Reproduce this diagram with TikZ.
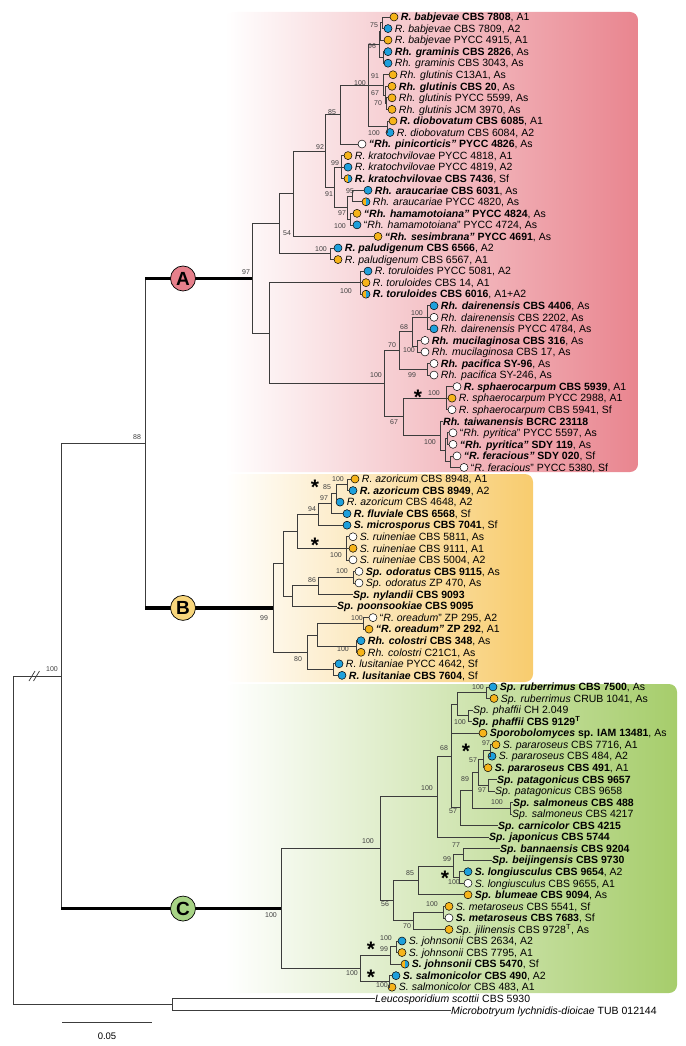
\documentclass[tikz,border=0pt]{standalone}
\usepackage{fontspec}
\setmainfont{Liberation Sans}
\usetikzlibrary{positioning}

\definecolor{dotorange}{HTML}{F6B41A}
\definecolor{dotblue}{HTML}{1EA0DC}
\definecolor{shadeA}{HTML}{E9858F}
\definecolor{shadeB}{HTML}{F8CC6E}
\definecolor{shadeC}{HTML}{A6CD6B}
\definecolor{circA}{HTML}{E6808B}
\definecolor{circB}{HTML}{F8D67C}
\definecolor{circC}{HTML}{A8D486}
\definecolor{treeline}{HTML}{3C3C3C}

\tikzset{
  branch/.style={draw=treeline, line width=0.7pt},
  stem/.style={draw=black, line width=3.2pt},
  dot/.style={circle, draw=black, line width=0.5pt, minimum size=8pt, inner sep=0pt},
  dotO/.style={dot, fill=dotorange},
  dotB/.style={dot, fill=dotblue},
  dotW/.style={dot, fill=white},
  dotH/.style={dot, fill=dotorange, path picture={\fill[dotblue] (path picture bounding box.south) rectangle (path picture bounding box.north east);}},
  taxon/.style={anchor=west, inner sep=0pt, text height=7.5pt, text depth=0pt, font=\fontsize{10.5}{12}\selectfont},
  boot/.style={inner sep=0pt, text=black!75, font=\fontsize{7}{8}\selectfont},
  clade/.style={circle, draw=black, line width=0.7pt, minimum size=25pt, inner sep=0pt, font=\fontsize{19}{19}\selectfont\bfseries},
  ast/.style={anchor=base, yshift=-12pt, inner sep=0pt, font=\fontsize{21}{21}\selectfont\bfseries}
}

% leaf with a mating-type dot, and leaf with text only
\newcommand\leafdot[5]{%
  \node[#4] (l#1) at (#2,#3) {};
  \node[taxon] (t#1) at ([xshift=2.5pt]l#1.east) {#5};}
\newcommand\leaftxt[4]{%
  \node[taxon] (l#1) at (#2,#3) {#4};}

\begin{document}
\begin{tikzpicture}[x=1pt, y=-11.55pt]
% frame and clade backgrounds (pixel units)
\begin{scope}[y=-1pt, yshift=5.45pt]
  \useasboundingbox (0,0) rectangle (685,1046);
  \shade[left color=white, right color=shadeA, rounded corners=8pt] (225,12) rectangle (638,472);
  \shade[left color=white, right color=shadeB, rounded corners=8pt] (225,474) rectangle (533,682);
  \shade[left color=white, right color=shadeC, rounded corners=8pt] (225,684) rectangle (677,993);
\end{scope}

% clade A
\leafdot{1}{394}{1}{dotO}{\textbf{\textit{R. babjevae} CBS 7808}, A1}
\leafdot{2}{388}{2}{dotB}{\textit{R. babjevae} CBS 7809, A2}
\leafdot{3}{388}{3}{dotO}{\textit{R. babjevae} PYCC 4915, A1}
\leafdot{4}{388}{4}{dotB}{\textbf{\textit{Rh. graminis} CBS 2826}, As}
\leafdot{5}{388}{5}{dotB}{\textit{Rh. graminis} CBS 3043, As}
\leafdot{6}{393}{6}{dotO}{\textit{Rh. glutinis} C13A1, As}
\leafdot{7}{392}{7}{dotO}{\textbf{\textit{Rh. glutinis} CBS 20}, As}
\leafdot{8}{392}{8}{dotO}{\textit{Rh. glutinis} PYCC 5599, As}
\leafdot{9}{392}{9}{dotO}{\textit{Rh. glutinis} JCM 3970, As}
\leafdot{10}{393}{10}{dotO}{\textbf{\textit{R. diobovatum} CBS 6085}, A1}
\leafdot{11}{390}{11}{dotB}{\textit{R. diobovatum} CBS 6084, A2}
\leafdot{12}{362}{12}{dotW}{\textbf{\textit{“Rh. pinicorticis”} PYCC 4826}, As}
\leafdot{13}{348}{13}{dotO}{\textit{R. kratochvilovae} PYCC 4818, A1}
\leafdot{14}{348}{14}{dotB}{\textit{R. kratochvilovae} PYCC 4819, A2}
\leafdot{15}{348}{15}{dotH}{\textbf{\textit{R. kratochvilovae} CBS 7436}, Sf}
\leafdot{16}{368}{16}{dotB}{\textbf{\textit{Rh. araucariae} CBS 6031}, As}
\leafdot{17}{366}{17}{dotH}{\textit{Rh. araucariae} PYCC 4820, As}
\leafdot{18}{357}{18}{dotO}{\textbf{\textit{“Rh. hamamotoiana”} PYCC 4824}, As}
\leafdot{19}{357}{19}{dotB}{“\textit{Rh. hamamotoiana}” PYCC 4724, As}
\leafdot{20}{378}{20}{dotO}{\textbf{\textit{“Rh. sesimbrana”} PYCC 4691}, As}
\leafdot{21}{338}{21}{dotB}{\textbf{\textit{R. paludigenum} CBS 6566}, A2}
\leafdot{22}{338}{22}{dotO}{\textit{R. paludigenum} CBS 6567, A1}
\leafdot{23}{368}{23}{dotB}{\textit{R. toruloides} PYCC 5081, A2}
\leafdot{24}{366}{24}{dotO}{\textit{R. toruloides} CBS 14, A1}
\leafdot{25}{366}{25}{dotH}{\textbf{\textit{R. toruloides} CBS 6016}, A1+A2}
\leafdot{26}{434}{26}{dotB}{\textbf{\textit{Rh. dairenensis} CBS 4406}, As}
\leafdot{27}{434}{27}{dotW}{\textit{Rh. dairenensis} CBS 2202, As}
\leafdot{28}{434}{28}{dotB}{\textit{Rh. dairenensis} PYCC 4784, As}
\leafdot{29}{425}{29}{dotW}{\textbf{\textit{Rh. mucilaginosa} CBS 316}, As}
\leafdot{30}{425}{30}{dotW}{\textit{Rh. mucilaginosa} CBS 17, As}
\leafdot{31}{434}{31}{dotW}{\textbf{\textit{Rh. pacifica} SY-96}, As}
\leafdot{32}{434}{32}{dotW}{\textit{Rh. pacifica} SY-246, As}
\leafdot{33}{457}{33}{dotW}{\textbf{\textit{R. sphaerocarpum} CBS 5939}, A1}
\leafdot{34}{452}{34}{dotO}{\textit{R. sphaerocarpum} PYCC 2988, A1}
\leafdot{35}{452}{35}{dotW}{\textit{R. sphaerocarpum} CBS 5941, Sf}
\leaftxt{36}{443}{36}{\textbf{\textit{Rh. taiwanensis} BCRC 23118}}
\leafdot{37}{453}{37}{dotW}{“\textit{Rh. pyritica}” PYCC 5597, As}
\leafdot{38}{453}{38}{dotW}{\textbf{\textit{“Rh. pyritica”} SDY 119}, As}
\leafdot{39}{457}{39}{dotW}{\textbf{\textit{“R. feracious”} SDY 020}, Sf}
\leafdot{40}{464}{40}{dotW}{“\textit{R. feracious}” PYCC 5380, Sf}

% clade B
\leafdot{41}{355}{41}{dotO}{\textit{R. azoricum} CBS 8948, A1}
\leafdot{42}{353}{42}{dotB}{\textbf{\textit{R. azoricum} CBS 8949}, A2}
\leafdot{43}{340}{43}{dotB}{\textit{R. azoricum} CBS 4648, A2}
\leafdot{44}{347}{44}{dotB}{\textbf{\textit{R. fluviale} CBS 6568}, Sf}
\leafdot{45}{347}{45}{dotB}{\textbf{\textit{S. microsporus} CBS 7041}, Sf}
\leafdot{46}{353}{46}{dotW}{\textit{S. ruineniae} CBS 5811, As}
\leafdot{47}{353}{47}{dotO}{\textit{S. ruineniae} CBS 9111, A1}
\leafdot{48}{353}{48}{dotW}{\textit{S. ruineniae} CBS 5004, A2}
\leafdot{49}{359}{49}{dotW}{\textbf{\textit{Sp. odoratus} CBS 9115}, As}
\leafdot{50}{359}{50}{dotW}{\textit{Sp. odoratus} ZP 470, As}
\leaftxt{51}{353}{51}{\textbf{\textit{Sp. nylandii} CBS 9093}}
\leaftxt{52}{337}{52}{\textbf{\textit{Sp. poonsookiae} CBS 9095}}
\leafdot{53}{373}{53}{dotW}{“\textit{R. oreadum}” ZP 295, A2}
\leafdot{54}{369}{54}{dotO}{\textbf{\textit{“R. oreadum”} ZP 292}, A1}
\leafdot{55}{361}{55}{dotB}{\textbf{\textit{Rh. colostri} CBS 348}, As}
\leafdot{56}{361}{56}{dotO}{\textit{Rh. colostri} C21C1, As}
\leafdot{57}{339}{57}{dotB}{\textit{R. lusitaniae} PYCC 4642, Sf}
\leafdot{58}{342}{58}{dotB}{\textbf{\textit{R. lusitaniae} CBS 7604}, Sf}

% clade C
\leafdot{59}{493}{59}{dotB}{\textbf{\textit{Sp. ruberrimus} CBS 7500}, As}
\leafdot{60}{494}{60}{dotO}{\textit{Sp. ruberrimus} CRUB 1041, As}
\leaftxt{61}{473}{61}{\textit{Sp. phaffii} CH 2.049}
\leaftxt{62}{472}{62}{\textbf{\textit{Sp. phaffii} CBS 9129\textsuperscript{T}}}
\leafdot{63}{483}{63}{dotO}{\textbf{\textit{Sporobolomyces} sp. IAM 13481}, As}
\leafdot{64}{496}{64}{dotO}{\textit{S. pararoseus} CBS 7716, A1}
\leafdot{65}{492}{65}{dotB}{\textit{S. pararoseus} CBS 484, A2}
\leafdot{66}{488}{66}{dotO}{\textbf{\textit{S. pararoseus} CBS 491}, A1}
\leaftxt{67}{497}{67}{\textbf{\textit{Sp. patagonicus} CBS 9657}}
\leaftxt{68}{495}{68}{\textit{Sp. patagonicus} CBS 9658}
\leaftxt{69}{513}{69}{\textbf{\textit{Sp. salmoneus} CBS 488}}
\leaftxt{70}{512}{70}{\textit{Sp. salmoneus} CBS 4217}
\leaftxt{71}{498}{71}{\textbf{\textit{Sp. carnicolor} CBS 4215}}
\leaftxt{72}{489}{72}{\textbf{\textit{Sp. japonicus} CBS 5744}}
\leaftxt{73}{500}{73}{\textbf{\textit{Sp. bannaensis} CBS 9204}}
\leaftxt{74}{492}{74}{\textbf{\textit{Sp. beijingensis} CBS 9730}}
\leafdot{75}{468}{75}{dotB}{\textbf{\textit{S. longiusculus} CBS 9654}, A2}
\leafdot{76}{468}{76}{dotW}{\textit{S. longiusculus} CBS 9655, A1}
\leafdot{77}{468}{77}{dotO}{\textbf{\textit{Sp. blumeae} CBS 9094}, As}
\leafdot{78}{449}{78}{dotO}{\textit{S. metaroseus} CBS 5541, Sf}
\leafdot{79}{449}{79}{dotW}{\textbf{\textit{S. metaroseus} CBS 7683}, Sf}
\leafdot{80}{449}{80}{dotO}{\textit{Sp. jilinensis} CBS 9728\textsuperscript{T}, As}
\leafdot{81}{402}{81}{dotB}{\textit{S. johnsonii} CBS 2634, A2}
\leafdot{82}{402}{82}{dotO}{\textit{S. johnsonii} CBS 7795, A1}
\leafdot{83}{405}{83}{dotH}{\textbf{\textit{S. johnsonii} CBS 5470}, Sf}
\leafdot{84}{396}{84}{dotB}{\textbf{\textit{S. salmonicolor} CBS 490}, A2}
\leafdot{85}{392}{85}{dotO}{\textit{S. salmonicolor} CBS 483, A1}

% outgroup
\leaftxt{86}{375}{86}{\textit{Leucosporidium scottii} CBS 5930}
\leaftxt{87}{451}{87}{\textit{Microbotryum lychnidis-dioicae} TUB 012144}

% internal nodes (x in px, y in rows)
\coordinate (a75) at (382,1.5);
\coordinate (ababj) at (380.5,2.25);
\coordinate (agram) at (383,4.5);
\coordinate (a96) at (379,3.375);
\coordinate (a70g) at (386,8.5);
\coordinate (a67g) at (385,7.75);
\coordinate (a91) at (383,6.875);
\coordinate (adio) at (387,10.5);
\coordinate (a100) at (368,6.94);
\coordinate (a85) at (340,9.47);
\coordinate (akra) at (341,14);
\coordinate (aara) at (352,16.5);
\coordinate (aham) at (350,18.5);
\coordinate (a97) at (347,17.5);
\coordinate (a91k) at (334,15.75);
\coordinate (a92) at (325,12.61);
\coordinate (a54r) at (293,16.3);
\coordinate (apal) at (330,21.5);
\coordinate (a54) at (279,18.9);
\coordinate (ator) at (360,24);
\coordinate (adai) at (427,27);
\coordinate (amuc) at (417,29.5);
\coordinate (a68) at (412,28.25);
\coordinate (apac) at (427,31.5);
\coordinate (a70) at (399,29.875);
\coordinate (asph) at (446,34);
\coordinate (apyr) at (447,37.5);
\coordinate (afer) at (450,39.5);
\coordinate (apf) at (445,38.5);
\coordinate (atai) at (440,37.25);
\coordinate (a67) at (403,35.6);
\coordinate (aU) at (384,32.75);
\coordinate (aV) at (269,28.375);
\coordinate (aroot) at (252,23.64);

\coordinate (bazo) at (347,41.5);
\coordinate (b85) at (336,42.25);
\coordinate (b97) at (331,43.125);
\coordinate (b94) at (318,44.06);
\coordinate (brui) at (346,47);
\coordinate (b1) at (297,45.53);
\coordinate (bodo) at (353,49.5);
\coordinate (b86) at (318,50.25);
\coordinate (b4) at (292,51.125);
\coordinate (b3) at (283,48.33);
\coordinate (bore) at (363,53.5);
\coordinate (bcol) at (356,55.5);
\coordinate (bO) at (317,54.5);
\coordinate (blus) at (333,57.5);
\coordinate (b80) at (307,56);
\coordinate (broot) at (273,52.16);

\coordinate (crub) at (486,59.5);
\coordinate (cpha) at (468,61.5);
\coordinate (crp) at (457,60.5);
\coordinate (cpar1) at (490,64.5);
\coordinate (cpar2) at (483,65.25);
\coordinate (cpat) at (488,67.5);
\coordinate (cpp) at (478,66.375);
\coordinate (csal) at (510,69.5);
\coordinate (c89) at (472,67.94);
\coordinate (c57) at (460,69.47);
\coordinate (c68) at (451,64.98);
\coordinate (c100) at (437,68.49);
\coordinate (c77) at (463,73.5);
\coordinate (clon) at (459,75.5);
\coordinate (c99) at (453,74.5);
\coordinate (c85) at (418,75.75);
\coordinate (cmet) at (443,78.5);
\coordinate (c70) at (413,79.25);
\coordinate (c56) at (393,77.5);
\coordinate (cX) at (380,73);
\coordinate (cjA) at (396,81.5);
\coordinate (cjB) at (390,82.25);
\coordinate (csmc) at (389,84.5);
\coordinate (cJ) at (360,83.375);
\coordinate (croot) at (281,78.19);

\coordinate (nAB) at (145,37.9);
\coordinate (nIn) at (61,58.05);
\coordinate (nOut) at (172,86.5);
\coordinate (nRoot) at (13,72.3);

% branches
\foreach \p/\cs in {
  a75/{l1.west,l2.west}, ababj/{a75,l3.west}, agram/{l4.west,l5.west},
  a96/{ababj,agram}, a70g/{l8.west,l9.west}, a67g/{l7.west,a70g},
  a91/{l6.west,a67g}, adio/{l10.west,l11.west}, a100/{a96,a91,adio},
  a85/{a100,l12.west}, akra/{l13.west,l14.west,l15.west},
  aara/{l16.west,l17.west}, aham/{l18.west,l19.west}, a97/{aara,aham},
  a91k/{akra,a97}, a92/{a85,a91k}, a54r/{a92,l20.west},
  apal/{l21.west,l22.west}, a54/{a54r,apal},
  ator/{l23.west,l24.west,l25.west}, adai/{l26.west,l27.west,l28.west},
  amuc/{l29.west,l30.west}, a68/{adai,amuc}, apac/{l31.west,l32.west},
  a70/{a68,apac}, asph/{l33.west,l34.west,l35.west},
  apyr/{l37.west,l38.west}, afer/{l39.west,l40.west}, apf/{apyr,afer},
  atai/{l36.west,apf}, a67/{asph,atai}, aU/{a70,a67}, aV/{ator,aU},
  aroot/{a54,aV},
  bazo/{l41.west,l42.west}, b85/{bazo,l43.west}, b97/{b85,l44.west},
  b94/{b97,l45.west}, brui/{l46.west,l47.west,l48.west}, b1/{b94,brui},
  bodo/{l49.west,l50.west}, b86/{bodo,l51.west}, b4/{b86,l52.west},
  b3/{b1,b4}, bore/{l53.west,l54.west}, bcol/{l55.west,l56.west},
  bO/{bore,bcol}, blus/{l57.west,l58.west}, b80/{bO,blus}, broot/{b3,b80},
  crub/{l59.west,l60.west}, cpha/{l61.west,l62.west}, crp/{crub,cpha},
  cpar1/{l64.west,l65.west}, cpar2/{cpar1,l66.west}, cpat/{l67.west,l68.west},
  cpp/{cpar2,cpat}, csal/{l69.west,l70.west}, c89/{cpp,csal},
  c57/{c89,l71.west}, c68/{crp,l63.west,c57}, c100/{c68,l72.west},
  c77/{l73.west,l74.west}, clon/{l75.west,l76.west}, c99/{c77,clon},
  c85/{c99,l77.west}, cmet/{l78.west,l79.west}, c70/{cmet,l80.west},
  c56/{c85,c70}, cX/{c100,c56}, cjA/{l81.west,l82.west}, cjB/{cjA,l83.west},
  csmc/{l84.west,l85.west}, cJ/{cjB,csmc}, croot/{cX,cJ},
  nAB/{aroot,broot}, nIn/{nAB,croot}, nOut/{l86.west,l87.west},
  nRoot/{nIn,nOut}}
  \foreach \c in \cs {\draw[branch] (\p) |- (\c);}

% clade stems
\draw[stem] (nAB |- aroot) -- (aroot);
\draw[stem] (nAB |- broot) -- (broot);
\draw[stem] (nIn |- croot) -- (croot);
\node[clade, fill=circA] (kA) at (183,23.64) {A};
\node[clade, fill=circB] (kB) at (183,52.16) {B};
\node[clade, fill=circC] (kC) at (183,78.19) {C};

% support values, stars, scale (pixel units)
\begin{scope}[y=-1pt, yshift=5.45pt]
  \foreach \x/\y/\v [count=\i] in {
    374/25/75, 372/46/96, 360/83/100, 375/76/91, 375/93/67, 378/103/70,
    332/112/85, 374/133/100, 320/147/92, 335/163/99, 329/194/91, 350/191/95,
    342/213/97, 340/226/100, 287/233/54, 321/249/100, 246/272/97, 346/291/100,
    417/313/100, 404/327/68, 392/345/70, 409/350/100, 376/375/100, 412/375/99,
    434/393/100, 394/422/67, 430/442/100,
    338/479/100, 327/487/85, 324/498/97, 312/509/94, 336/555/100, 342/571/100,
    312/580/86, 264/618/99, 357/618/100, 343/649/100, 298/659/80,
    478/687/100, 460/722/100, 486/743/97, 473/760/57, 444/748/68, 465/779/89,
    482/790/97, 427/788/100, 497/802/100, 453/811/57, 456/845/77, 368/841/100,
    447/859/99, 410/873/85, 454/882/100, 385/904/56, 432/904/100, 407/926/70,
    271/915/100, 386/938/100, 384/949/99, 352/973/100, 382/985/100,
    52/669/100, 137/437/88}
    \node[boot] (bs\i) at (\x,\y) {\v};
  \foreach \x/\y [count=\i] in {418/392, 315/482, 315/540, 466/746, 445/873, 371/944, 371/972}
    \node[ast] (st\i) at (\x,\y) {*};
  \draw[branch] (29,681) -- (35,671) (33.5,681) -- (39.5,671);
  \coordinate (sbL) at (62,1022);
  \coordinate (sbR) at (152,1022);
  \draw[branch] (sbL) -- (sbR);
  \node[font=\fontsize{9.5}{10}\selectfont] (sbT) at (107,1036) {0.05};
\end{scope}
\end{tikzpicture}
\end{document}
